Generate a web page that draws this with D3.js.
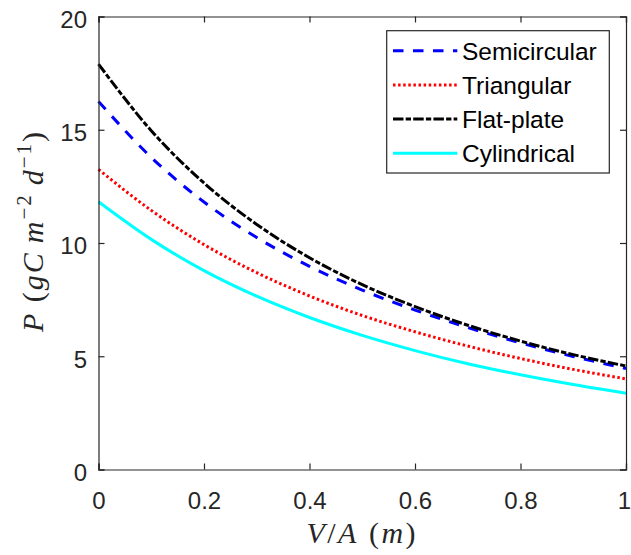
<!DOCTYPE html>
<html>
<head>
<meta charset="utf-8">
<script src="https://cdn.jsdelivr.net/npm/d3@7/dist/d3.min.js"></script>
<style>
  html, body { margin: 0; padding: 0; background: #fff; }
  svg { display: block; }
</style>
</head>
<body>
<svg id="chart" width="631" height="555"></svg>
<script>
// ---- data ----
const xValues = [0, 0.1, 0.2, 0.3, 0.4, 0.5, 0.6, 0.7, 0.8, 0.9, 1.0];
const semicircular = [16.25, 13.78, 11.81, 10.24, 8.97, 7.92, 7.04, 6.27, 5.59, 4.99, 4.46];
const triangular   = [13.25, 11.44, 9.93, 8.69, 7.66, 6.80, 6.08, 5.45, 4.90, 4.42, 4.00];
const flatPlate    = [17.90, 14.96, 12.65, 10.82, 9.35, 8.16, 7.19, 6.37, 5.67, 5.07, 4.57];
const cylindrical  = [11.82, 10.16, 8.78, 7.65, 6.71, 5.92, 5.25, 4.67, 4.18, 3.75, 3.37];
const seriesNames  = ["Semicircular", "Triangular", "Flat-plate", "Cylindrical"];
const xTicks = [0, 0.2, 0.4, 0.6, 0.8, 1];
const yTicks = [0, 5, 10, 15, 20];

const seriesValues = [semicircular, triangular, flatPlate, cylindrical];
const styles = [
  { color: "#0000ff", dash: "10.5,9.5" },
  { color: "#ff0000", dash: "2.5,2.6" },
  { color: "#000000", dash: "10.5,2.2,5.3,2.2" },
  { color: "#00ffff", dash: null }
];

const svg = d3.select("#chart");
const margin = { left: 98.5, top: 16.5, right: 631 - 626, bottom: 555 - 469.5 };
const W = 631 - margin.left - margin.right;
const H = 555 - margin.top - margin.bottom;
const axisColor = "#262626";
const sans = "'Liberation Sans', Arial, Helvetica, sans-serif";
const serif = "'Liberation Serif', 'Times New Roman', serif";

const x = d3.scaleLinear().domain([0, 1]).range([0, W]);
const y = d3.scaleLinear().domain([0, 20]).range([H, 0]);

const g = svg.append("g").attr("transform", `translate(${margin.left},${margin.top})`);

// data lines
const line = d3.line()
  .x((d, i) => x(xValues[i]))
  .y(d => y(d))
  .curve(d3.curveMonotoneX);

seriesValues.forEach((vals, k) => {
  g.append("path")
    .datum(vals)
    .attr("d", line)
    .attr("fill", "none")
    .attr("stroke", styles[k].color)
    .attr("stroke-width", 3)
    .attr("stroke-dasharray", styles[k].dash)
    .attr("stroke-linecap", "butt");
});

// axes (ticks inside, box)
const tickLen = 6;
const xAxisB = d3.axisBottom(x).tickValues(xTicks).tickSize(-tickLen).tickPadding(tickLen + 16)
  .tickFormat(d => d === 0 || d === 1 ? String(d) : d3.format(".1f")(d));
const xAxisT = d3.axisTop(x).tickValues(xTicks).tickSize(-tickLen).tickFormat("");
const yAxisL = d3.axisLeft(y).tickValues(yTicks).tickSize(-tickLen).tickPadding(tickLen + 11);
const yAxisR = d3.axisRight(y).tickValues(yTicks).tickSize(-tickLen).tickFormat("");

function styleAxis(sel) {
  sel.select(".domain").attr("stroke", axisColor).attr("stroke-width", 1.2);
  sel.selectAll(".tick line").attr("stroke", axisColor).attr("stroke-width", 1.2);
  sel.selectAll(".tick text").attr("fill", axisColor)
    .style("font-family", sans).style("font-size", "24px");
}

const gxb = g.append("g").attr("transform", `translate(0,${H})`).call(xAxisB).call(styleAxis);
gxb.selectAll(".tick text").attr("dy", "0.71em").attr("y", 22);
gxb.selectAll(".tick text").filter(d => d === 1).attr("text-anchor", "end").attr("dx", 4.5);
g.append("g").call(xAxisT).call(styleAxis);
const gyl = g.append("g").call(yAxisL).call(styleAxis);
gyl.selectAll(".tick text").attr("dy", "0.45em").attr("x", -11.5);
g.append("g").attr("transform", `translate(${W},0)`).call(yAxisR).call(styleAxis);

// axis labels
const xl = svg.append("text")
  .attr("x", margin.left + W / 2).attr("y", 543)
  .attr("text-anchor", "middle")
  .style("font-family", serif).style("font-size", "30px")
  .style("letter-spacing", "2.5px").attr("fill", axisColor);
xl.append("tspan").style("font-style", "italic").text("V");
xl.append("tspan").text("/");
xl.append("tspan").style("font-style", "italic").text("A");
xl.append("tspan").text(" (");
xl.append("tspan").style("font-style", "italic").text("m");
xl.append("tspan").text(")");

const yl = svg.append("text")
  .attr("transform", `translate(43,231) rotate(-90)`)
  .attr("text-anchor", "middle")
  .style("font-family", serif).style("font-size", "30px")
  .style("letter-spacing", "2px").attr("fill", axisColor);
yl.append("tspan").style("font-style", "italic").text("P");
yl.append("tspan").text(" (");
yl.append("tspan").style("font-style", "italic").text("gC");
yl.append("tspan").text("\u2009");
yl.append("tspan").style("font-style", "italic").text("m");
yl.append("tspan").attr("dy", -12).style("font-size", "21px").text("\u22122");
yl.append("tspan").attr("dy", 12).text("\u2009");
yl.append("tspan").style("font-style", "italic").text("d");
yl.append("tspan").attr("dy", -12).style("font-size", "21px").text("\u22121");
yl.append("tspan").attr("dy", 12).text(")");

// legend
const lg = svg.append("g");
lg.append("rect")
  .attr("x", 386.7).attr("y", 30.7).attr("width", 222.6).attr("height", 142.3)
  .attr("fill", "#fff").attr("stroke", axisColor).attr("stroke-width", 1.2);
const rowY = d3.scalePoint().domain(seriesNames).range([50.7, 153.3]);
seriesNames.forEach((name, k) => {
  const yy = rowY(name);
  lg.append("line")
    .attr("x1", 393).attr("x2", 457.3).attr("y1", yy).attr("y2", yy)
    .attr("stroke", styles[k].color).attr("stroke-width", 3)
    .attr("stroke-dasharray", styles[k].dash);
  lg.append("text")
    .attr("x", 462).attr("y", yy + 8.8)
    .style("font-family", sans).style("font-size", "24.5px").attr("fill", "#000")
    .text(name);
});
</script>
</body>
</html>
